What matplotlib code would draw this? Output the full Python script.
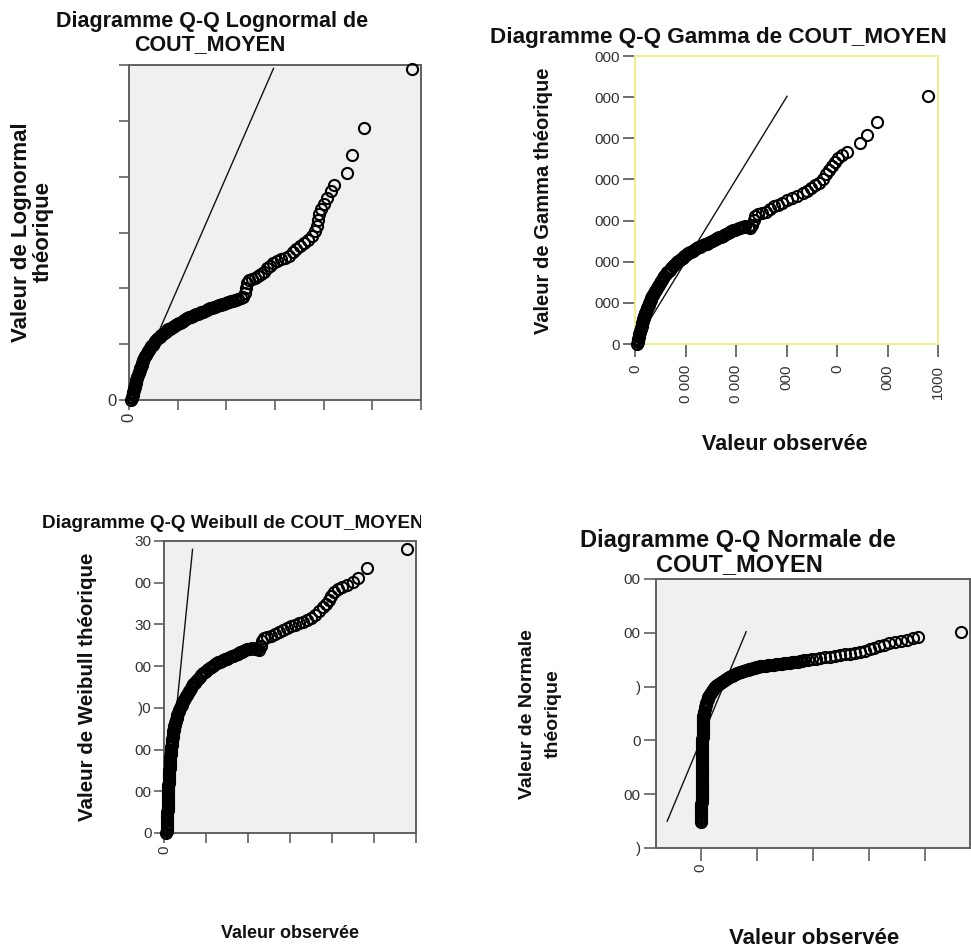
import matplotlib
matplotlib.use("Agg")
import matplotlib.pyplot as plt
from matplotlib.transforms import Bbox

plt.rcParams['font.family'] = ['Liberation Sans', 'DejaVu Sans']

# ---------------- data (COUT_MOYEN, en milliers) ----------------
# Lognormal Q-Q : valeurs observées / valeurs théoriques
lognormal_obs = [0.41, 0.55, 0.65, 0.72, 0.79, 0.90, 1.00, 1.09, 1.16, 1.24, 1.38, 1.47, 1.54, 1.61, 1.72, 1.86,
                 2.00, 2.13, 2.26, 2.33, 2.45, 2.58, 2.72, 2.84, 2.91, 3.10, 3.30, 3.52, 3.73, 3.94, 4.14, 4.35,
                 4.59, 4.85,
                 5.10, 5.40, 5.70, 6.00, 6.30, 6.60, 6.90, 7.20, 7.50, 7.80, 8.10, 8.40, 8.70, 9.00, 9.30, 9.60,
                 9.90, 10.20, 10.50, 10.80, 11.10, 11.40, 11.70, 12.00,
                 12.36, 12.72, 13.08, 13.44, 13.80, 14.16, 14.52, 14.88, 15.24, 15.60, 15.96, 16.32, 16.68, 17.04,
                 17.40, 17.76, 18.12, 18.48, 18.84, 19.20, 19.56, 19.92, 20.28, 20.64, 21.00, 21.36, 21.72, 22.08,
                 22.44,
                 23.01, 23.43, 23.84, 24.04, 24.25, 24.66, 25.28, 25.89, 26.51, 27.12, 27.74, 28.36, 28.97,
                 29.59, 30.41, 31.23, 32.05, 32.88, 33.70, 34.31, 35.14, 35.96, 36.78, 37.60, 38.22, 38.63,
                 38.84, 39.04, 39.45, 40.07, 40.68, 41.51, 42.12, 44.79, 45.82, 48.29, 58.15]
lognormal_theo = [0.00, 0.15, 0.30, 0.45, 0.60, 0.75, 0.90, 1.05, 1.20, 1.35, 1.50, 1.65, 1.80, 1.95, 2.10, 2.25,
                  2.40, 2.55, 2.70, 2.85, 3.00, 3.15, 3.30, 3.45, 3.60, 3.75, 3.90, 4.05, 4.20, 4.35, 4.50, 4.65,
                  4.80, 4.95,
                  5.12, 5.31, 5.43, 5.55, 5.67, 5.78, 5.88, 6.00, 6.12, 6.23, 6.32, 6.40, 6.48, 6.56, 6.63, 6.71,
                  6.79, 6.87, 6.94, 7.02, 7.10, 7.18, 7.26, 7.34,
                  7.41, 7.46, 7.51, 7.58, 7.66, 7.74, 7.81, 7.86, 7.92, 8.00, 8.08, 8.16, 8.22, 8.27,
                  8.32, 8.37, 8.43, 8.48, 8.53, 8.58, 8.64, 8.69, 8.74, 8.79, 8.85, 8.90, 8.95, 9.00,
                  9.05,
                  9.13, 9.22, 9.58, 10.03, 10.48, 10.75, 10.84, 10.93, 11.10, 11.28, 11.46, 11.82, 12.00,
                  12.27, 12.45, 12.63, 12.72, 12.90, 13.25, 13.52, 13.79, 14.06, 14.33, 14.69, 15.13, 15.58,
                  16.12, 16.66, 17.10, 17.55, 18.09, 18.72, 19.25, 20.33, 21.94, 24.36, 29.64]
lognormal_line = [0.0, 29.7]

# Gamma Q-Q
gamma_obs = [0.40, 0.50, 0.60, 0.67, 0.73, 0.80, 0.87, 0.93, 1.00, 1.14, 1.23, 1.29, 1.36, 1.46, 1.58, 1.65,
             1.74, 1.88, 1.95, 2.04, 2.17, 2.31, 2.44, 2.56, 2.69, 2.82, 2.96, 3.09, 3.22, 3.35, 3.53, 3.72,
             3.92, 4.12, 4.32, 4.51, 4.75, 5.00, 5.20, 5.39, 5.58,
             5.80, 6.08, 6.36, 6.64, 6.92, 7.20, 7.48, 7.76, 8.04, 8.32, 8.60, 8.88, 9.16, 9.44, 9.72, 10.00,
             10.28, 10.56, 10.84, 11.12, 11.40, 11.68, 11.96, 12.24, 12.52, 12.80,
             13.15, 13.50, 13.85, 14.20, 14.55, 14.90, 15.25, 15.60, 15.95, 16.30, 16.65, 17.00, 17.35, 17.70,
             18.05, 18.40, 18.75, 19.10, 19.45, 19.80, 20.15, 20.50, 20.85, 21.20, 21.55,
             21.78, 22.37, 22.77, 23.17, 23.56, 23.76, 24.35, 25.15, 25.94, 26.73, 27.52, 28.31, 29.11, 30.10,
             31.09, 32.08, 33.26, 34.06, 34.85, 35.64, 36.43, 37.22, 37.82, 38.41, 39.01, 39.60, 40.19, 40.99,
             41.98, 44.55, 45.94, 47.92, 58.01]
gamma_theo = [0.0, 0.2, 0.4, 0.6, 0.8, 1.0, 1.2, 1.4, 1.6, 1.8, 2.0, 2.2, 2.4, 2.6, 2.8, 3.0,
              3.2, 3.4, 3.6, 3.8, 4.0, 4.2, 4.4, 4.6, 4.8, 5.0, 5.2, 5.4, 5.6, 5.8, 6.0, 6.2,
              6.4, 6.6, 6.8, 7.0, 7.2, 7.4, 7.6, 7.8, 8.0,
              8.24, 8.49, 8.70, 8.88, 9.05, 9.27, 9.45, 9.62, 9.79, 9.96, 10.11, 10.24, 10.38, 10.51, 10.65, 10.79,
              10.93, 11.03, 11.14, 11.24, 11.34, 11.44, 11.55, 11.65, 11.74, 11.83,
              11.95, 12.04, 12.11, 12.19, 12.30, 12.40, 12.51, 12.62, 12.73, 12.84, 12.95, 13.05, 13.16, 13.26,
              13.38, 13.49, 13.59, 13.70, 13.80, 13.91, 14.00, 14.07, 14.15, 14.22, 14.26,
              14.28, 14.22, 14.09, 14.46, 15.07, 15.55, 15.80, 15.92, 16.04, 16.40, 16.77, 16.89, 17.13, 17.50,
              17.74, 17.98, 18.35, 18.59, 18.95, 19.32, 19.56, 20.05, 20.66, 21.14, 21.63, 22.11, 22.60, 22.96,
              23.33, 24.42, 25.39, 26.97, 30.13]
gamma_line = [0.0, 30.1]

# Weibull Q-Q
weibull_obs = [0.50, 0.62, 0.71, 0.74, 0.76, 0.77, 0.79, 0.80, 0.81, 0.82, 0.83, 0.85, 0.86, 0.87, 0.88, 0.90,
               0.91, 0.92, 0.93, 0.95, 0.97, 1.00, 1.03, 1.06, 1.09, 1.12, 1.15, 1.18, 1.22, 1.25, 1.28, 1.31,
               1.34, 1.37, 1.41, 1.44, 1.49, 1.54, 1.59, 1.64, 1.70, 1.75, 1.81, 1.87, 1.92, 1.97, 2.03, 2.08,
               2.14,
               2.22, 2.30, 2.38, 2.47, 2.57, 2.67, 2.76, 2.87, 2.98, 3.09, 3.20, 3.33, 3.52, 3.69, 3.85, 4.05,
               4.21, 4.38, 4.57, 4.76, 4.92, 5.15, 5.42, 5.65, 5.93, 6.22, 6.43, 6.70, 6.97,
               7.30, 7.70, 8.10, 8.50, 8.90, 9.30, 9.70, 10.10, 10.50, 10.90, 11.30, 11.70, 12.10, 12.50, 12.90,
               13.30, 13.70, 14.10, 14.50, 14.90, 15.30, 15.70, 16.10, 16.50, 16.90, 17.30, 17.70, 18.10, 18.50,
               18.90, 19.30, 19.70, 20.10, 20.50, 20.90, 21.30, 21.70, 22.10, 22.50,
               23.10, 23.33, 23.81, 24.52, 25.48, 26.43, 27.38, 28.33, 29.29, 30.24, 31.19, 32.14, 33.10, 34.05,
               35.00, 35.95, 36.91, 37.86, 38.57, 39.29, 39.76, 40.48, 41.43, 42.38, 43.57, 45.00, 46.19, 48.33,
               57.86]
weibull_theo = [0.00, 0.05, 0.10, 0.15, 0.20, 0.25, 0.30, 0.35, 0.40, 0.45, 0.50, 0.55, 0.60, 0.65, 0.70, 0.75,
                0.80, 0.85, 0.90, 0.95, 1.00, 1.05, 1.10, 1.15, 1.20, 1.25, 1.30, 1.35, 1.40, 1.45, 1.50, 1.55,
                1.60, 1.65, 1.70, 1.75, 1.80, 1.85, 1.90, 1.95, 2.00, 2.05, 2.10, 2.15, 2.20, 2.25, 2.30, 2.35,
                2.40,
                2.44, 2.48, 2.52, 2.56, 2.60, 2.64, 2.68, 2.72, 2.76, 2.80, 2.84, 2.88, 2.92, 2.96, 3.00, 3.04,
                3.08, 3.12, 3.16, 3.20, 3.24, 3.28, 3.32, 3.36, 3.40, 3.44, 3.48, 3.52, 3.56,
                3.60, 3.64, 3.69, 3.74, 3.79, 3.84, 3.87, 3.89, 3.92, 3.96, 3.98, 4.01, 4.04, 4.07, 4.09,
                4.11, 4.12, 4.14, 4.17, 4.18, 4.20, 4.22, 4.24, 4.25, 4.27, 4.29, 4.30, 4.33, 4.35,
                4.36, 4.38, 4.40, 4.41, 4.42, 4.43, 4.43, 4.42, 4.40, 4.39,
                4.48, 4.60, 4.68, 4.70, 4.72, 4.77, 4.82, 4.87, 4.92, 4.96, 4.99, 5.04, 5.06, 5.11,
                5.16, 5.23, 5.32, 5.42, 5.49, 5.59, 5.68, 5.78, 5.85, 5.90, 5.95, 6.02, 6.11, 6.35,
                6.81]
weibull_line = [0.2, 6.8]

# Normale Q-Q
normal_obs = [0.10, 0.10, 0.11, 0.11, 0.12, 0.12, 0.13, 0.13, 0.14, 0.14, 0.15, 0.15, 0.16, 0.16, 0.17, 0.17,
              0.18, 0.18, 0.19, 0.19, 0.20, 0.20, 0.21, 0.21, 0.22, 0.22, 0.23, 0.23, 0.24, 0.24, 0.25, 0.26,
              0.27, 0.28, 0.29, 0.30, 0.31, 0.32, 0.33, 0.34, 0.35, 0.36, 0.37, 0.38, 0.39, 0.40, 0.42, 0.44,
              0.46, 0.48, 0.51, 0.54, 0.58, 0.62,
              0.75, 0.88, 0.99, 1.11, 1.22, 1.33, 1.49, 1.66, 1.82, 1.99, 2.21, 2.43, 2.65, 2.88, 3.15, 3.43,
              3.70, 3.98, 4.31, 4.65, 4.98, 5.31, 5.64, 5.97, 6.30, 6.64, 6.97, 7.30, 7.63, 7.96, 8.30, 8.63,
              8.96, 9.29,
              9.67, 10.06, 10.45, 10.84, 11.22, 11.61, 12.00, 12.39, 12.83, 13.27, 13.71, 14.16, 14.60, 15.04,
              15.48, 15.93, 16.37, 16.81, 17.25, 17.70, 18.14, 18.58, 19.02, 19.47, 19.91, 20.35, 20.80, 21.24,
              21.68, 22.12, 22.57, 23.01,
              23.89, 24.77, 25.66, 26.54, 27.65, 28.76, 29.86, 30.97, 32.07, 33.18, 34.29, 35.39, 36.50, 37.60,
              38.71, 39.82, 40.92, 42.03, 43.35, 44.68, 46.01, 47.34, 48.44, 57.95]
normal_theo = [-7.62, -7.43, -7.24, -7.05, -6.86, -6.67, -6.48, -6.29, -6.10, -5.91, -5.72, -5.53, -5.34, -5.15,
               -4.96, -4.77, -4.58, -4.39, -4.20, -4.01, -3.82, -3.63, -3.44, -3.25, -3.06, -2.87, -2.68, -2.49,
               -2.30, -2.11, -1.92, -1.73, -1.54, -1.35, -1.16, -0.97, -0.78, -0.59, -0.40, -0.21, -0.02, 0.17,
               0.36, 0.55, 0.74, 0.93, 1.12, 1.31, 1.50, 1.69, 1.88, 2.07, 2.26, 2.45,
               2.66, 2.88, 3.06, 3.25, 3.44, 3.62, 3.81, 4.00, 4.14, 4.28, 4.42, 4.55, 4.69, 4.83, 4.95, 5.07,
               5.16, 5.25, 5.35, 5.44, 5.53, 5.62, 5.72, 5.81, 5.88, 5.95, 6.02, 6.09, 6.16, 6.23, 6.28, 6.32,
               6.37, 6.41,
               6.46, 6.51, 6.55, 6.60, 6.64, 6.69, 6.73, 6.78, 6.83, 6.88, 6.90, 6.92, 6.95, 6.97,
               7.00, 7.02, 7.04, 7.06, 7.09, 7.11, 7.14, 7.16, 7.18, 7.20, 7.23, 7.25, 7.28, 7.30,
               7.32, 7.34, 7.39, 7.44,
               7.48, 7.53, 7.57, 7.62, 7.71, 7.76, 7.81, 7.90, 7.99, 8.04, 8.09, 8.18, 8.32, 8.46,
               8.60, 8.74, 8.88, 9.02, 9.11, 9.20, 9.29, 9.48, 9.57, 10.04]
normal_line = [-7.5, 10.1]

# ticks and (partly cropped) tick labels
lognormal_xticks = [0, 10, 20, 30, 40, 50, 60]
lognormal_xlabels = ["0", "", "", "", "", "", ""]
lognormal_yticks = [0, 5, 10, 15, 20, 25, 30]
lognormal_ylabels = ["0", "", "", "", "", "", ""]

gamma_xticks = [0, 10, 20, 30, 40, 50, 60]
gamma_xlabels = ["0", "0 000", "0 000", "000", "0", "000", "1000"]
gamma_yticks = [0, 5, 10, 15, 20, 25, 30, 35]
gamma_ylabels = ["0", "000", "000", "000", "000", "000", "000", "000"]

weibull_xticks = [0, 10, 20, 30, 40, 50, 60]
weibull_xlabels = ["0", "", "", "", "", "", ""]
weibull_yticks = [0, 1, 2, 3, 4, 5, 6, 7]
weibull_ylabels = ["0", "00", "00", ")0", "00", "30", "00", "30"]

normal_xticks = [0, 12.5, 25, 37.5, 50]
normal_xlabels = ["0", "", "", "", ""]
normal_yticks = [-10, -5, 0, 5, 10, 15]
normal_ylabels = [")", "00", "0", ")", "00", "00"]

# ---------------- figure ----------------
W, H = 971, 951
fig = plt.figure(figsize=(W / 100, H / 100), dpi=100)
fig.patch.set_facecolor("white")


def box(l, t, r, b):
    return [l / W, 1 - b / H, (r - l) / W, (b - t) / H]


def ftext(px, py, s, size, rot=0, weight="bold", clip=None, color="#111111"):
    t = fig.text(px / W, 1 - py / H, s, ha="center", va="center", rotation=rot,
                 fontsize=size, fontweight=weight, color=color)
    if clip is not None:
        t.set_clip_box(Bbox.from_extents(0, 0, clip, H))
        t.set_clip_on(True)
    return t


def qq(rect, obs, theo, line, xlim, ylim, xt, xl, yt, yl, face, spine, tickcol, tlen, lsize, xpad=2):
    ax = fig.add_axes(rect)
    ax.set_facecolor(face)
    ax.plot(line, line, color="#111111", lw=1.0, zorder=2)
    ax.plot(obs, theo, linestyle="none", marker="o", ms=8.0, mfc="none", mec="black", mew=1.5, zorder=3,
            clip_on=False)
    ax.set_xlim(*xlim)
    ax.set_ylim(*ylim)
    ax.set_xticks(xt)
    ax.set_xticklabels(xl, rotation=90)
    ax.set_yticks(yt)
    ax.set_yticklabels(yl)
    for s in ax.spines.values():
        s.set_color(spine)
        s.set_linewidth(1.4)
    ax.tick_params(direction="out", length=tlen, width=1.2, color=tickcol, labelsize=lsize,
                   labelcolor="#333333", pad=2)
    ax.tick_params(axis="x", pad=xpad)
    return ax


qq(box(129, 65, 421, 400), lognormal_obs, lognormal_theo, lognormal_line, (0, 60), (0, 30),
   lognormal_xticks, lognormal_xlabels, lognormal_yticks, lognormal_ylabels,
   "#f0f0f0", "#606060", "#606060", 7, 12)
qq(box(635, 56, 938, 344), gamma_obs, gamma_theo, gamma_line, (0, 60), (0, 35),
   gamma_xticks, gamma_xlabels, gamma_yticks, gamma_ylabels,
   "white", "#eeee8a", "#555555", 9, 11, xpad=6)
qq(box(164, 541, 416, 833), weibull_obs, weibull_theo, weibull_line, (0, 60), (0, 7),
   weibull_xticks, weibull_xlabels, weibull_yticks, weibull_ylabels,
   "#f0f0f0", "#606060", "#606060", 7, 11)
qq(box(656, 579, 970, 848), normal_obs, normal_theo, normal_line, (-10, 60), (-10, 15),
   normal_xticks, normal_xlabels, normal_yticks, normal_ylabels,
   "#f0f0f0", "#606060", "#606060", 9, 11)

# titles
ftext(212, 22, "Diagramme Q-Q Lognormal de", 15.5)
ftext(210, 45, "COUT_MOYEN", 15.5)
ftext(718, 38, "Diagramme Q-Q Gamma de COUT_MOYEN", 16.2)
ftext(233, 524, "Diagramme Q-Q Weibull de COUT_MOYEN", 13.6, clip=421)
ftext(738, 541, "Diagramme Q-Q Normale de", 17.0)
ftext(739, 565, "COUT_MOYEN", 17.0)

# axis labels
ftext(22, 232, "Valeur de Lognormal", 16, rot=90)
ftext(43, 232, "théorique", 16, rot=90)
ftext(543, 201, "Valeur de Gamma théorique", 14.5, rot=90)
ftext(785, 445, "Valeur observée", 15.5)
ftext(88, 687, "Valeur de Weibull théorique", 14.8, rot=90)
ftext(290, 933, "Valeur observée", 13)
ftext(528, 714, "Valeur de Normale", 14, rot=90)
ftext(553, 714, "théorique", 14, rot=90)
ftext(814, 938, "Valeur observée", 16)

fig.savefig("out.png", dpi=100)
